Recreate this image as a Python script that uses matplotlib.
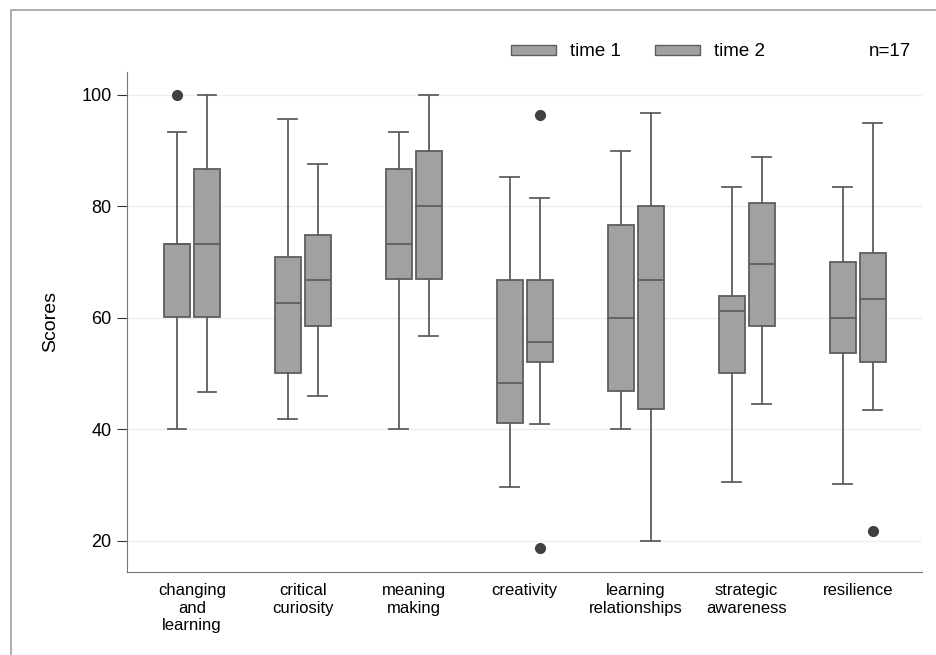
import matplotlib.pyplot as plt
import matplotlib.patches as mpatches
import numpy as np

plt.rcParams['font.family'] = ['Liberation Sans', 'DejaVu Sans']

categories = ['changing\nand\nlearning', 'critical\ncuriosity', 'meaning\nmaking',
              'creativity', 'learning\nrelationships', 'strategic\nawareness', 'resilience']

# time 1 box statistics
t1_whislo = [40.1, 41.8, 40.1, 29.6, 40.1, 30.6, 30.1]
t1_q1 = [60.2, 50.1, 67.0, 41.1, 46.9, 50.1, 53.7]
t1_med = [73.3, 62.6, 73.3, 48.3, 60.0, 61.2, 60.0]
t1_q3 = [73.3, 71.0, 86.7, 66.8, 76.6, 63.9, 70.0]
t1_whishi = [93.4, 95.7, 93.4, 85.2, 90.0, 83.4, 83.4]
t1_fliers = [[100.0], [], [], [], [], [], []]

# time 2 box statistics
t2_whislo = [46.7, 46.0, 56.7, 40.9, 20.0, 44.6, 43.4]
t2_q1 = [60.2, 58.6, 67.0, 52.0, 43.6, 58.6, 52.0]
t2_med = [73.3, 66.8, 80.1, 55.6, 66.8, 69.6, 63.3]
t2_q3 = [86.7, 74.9, 89.9, 66.8, 80.1, 80.6, 71.7]
t2_whishi = [100.0, 87.6, 100.0, 81.5, 96.7, 88.9, 95.0]
t2_fliers = [[], [], [], [96.4, 18.7], [], [], [21.8]]

n_label = 'n=17'


def make_stats(whislo, q1, med, q3, whishi, fliers):
    stats = []
    for i in range(len(med)):
        stats.append({'whislo': whislo[i], 'q1': q1[i], 'med': med[i],
                      'q3': q3[i], 'whishi': whishi[i], 'fliers': fliers[i]})
    return stats


fill = '#a1a1a1'
edge = '#5e5e5e'

fig = plt.figure(figsize=(9.36, 6.55), dpi=100)
ax = fig.add_axes([127 / 936, 1 - 572 / 655, (922 - 127) / 936, (572 - 72) / 655])

x = np.arange(len(categories))
offset = 0.135
width = 0.235

for stats, pos in [(make_stats(t1_whislo, t1_q1, t1_med, t1_q3, t1_whishi, t1_fliers), x - offset),
                   (make_stats(t2_whislo, t2_q1, t2_med, t2_q3, t2_whishi, t2_fliers), x + offset)]:
    ax.bxp(stats, positions=pos, widths=width, patch_artist=True, showfliers=True,
           boxprops=dict(facecolor=fill, edgecolor=edge, linewidth=1.3),
           medianprops=dict(color=edge, linewidth=1.3),
           whiskerprops=dict(color=edge, linewidth=1.3),
           capprops=dict(color=edge, linewidth=1.3),
           capwidths=width * 0.72,
           flierprops=dict(marker='o', markerfacecolor='#404040', markeredgecolor='#404040',
                           markersize=7))

ax.set_xlim(-0.585, 6.58)
ax.set_ylim(14.4, 104.1)
ax.set_yticks([20, 40, 60, 80, 100])
ax.yaxis.grid(True, color='#eeeeee', linewidth=1)
ax.set_axisbelow(True)
ax.set_xticks(x)
ax.set_xticklabels(categories, fontsize=12, linespacing=1.2)
ax.tick_params(axis='x', length=0, pad=8)
ax.tick_params(axis='y', length=7, color='#333333', labelsize=13, pad=4)
ax.set_ylabel('Scores', fontsize=14, labelpad=16)

for side in ['top', 'right']:
    ax.spines[side].set_visible(False)
for side in ['left', 'bottom']:
    ax.spines[side].set_color('#777777')

handles = [mpatches.Patch(facecolor=fill, edgecolor=edge, label='time 1'),
           mpatches.Patch(facecolor=fill, edgecolor=edge, label='time 2')]
fig.legend(handles=handles, loc='center', bbox_to_anchor=(638 / 936, 1 - 52 / 655), ncol=2,
           frameon=False, fontsize=13.5, handlelength=2.4, handleheight=0.5,
           columnspacing=1.85, handletextpad=0.75)
fig.text(890 / 936, 1 - 52 / 655, n_label, fontsize=13.5, ha='center', va='center')

# outer frame
fig.patches.append(mpatches.Rectangle((11 / 936, -0.1), 2, 1.1 - 10 / 655, transform=fig.transFigure,
                                      fill=False, edgecolor='#a0a0a0', linewidth=1.2))

fig.savefig('out.png', dpi=100)
